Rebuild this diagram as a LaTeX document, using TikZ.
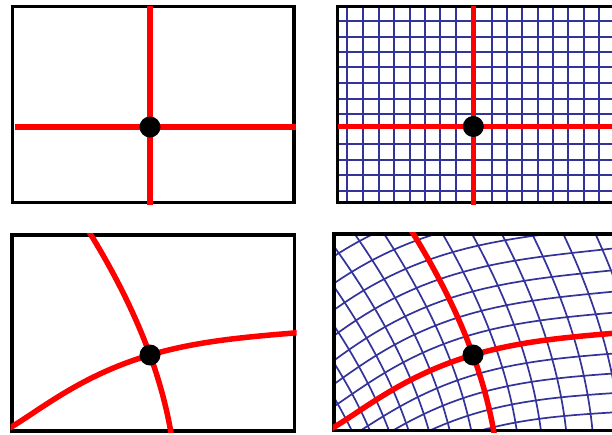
\documentclass[tikz,border=0pt]{standalone}
\definecolor{gridblue}{RGB}{51,51,153}
\definecolor{axisred}{RGB}{255,0,0}
\tikzset{
  panel/.style={draw=black, line width=3.5pt},
  axisline/.style={draw=axisred, line width=5.5pt},
  gridline/.style={draw=gridblue, line width=1.7pt},
  dotnode/.style={circle, fill=black, inner sep=0pt, minimum size=21pt},
}
\pgfmathdeclarefunction{Fx}{2}{\pgfmathparse{22.6*(#1)+0.64*(#1)*(#1)-6.72*(#2)-0.431*(#2)*(#2)+0.19*(#1)*(#2)}}
\pgfmathdeclarefunction{Fy}{2}{\pgfmathparse{6.67*(#1)-0.5808*(#1)*(#1)-0.003994*(#1)*(#1)*(#1)+0.003879*(#1)*(#1)*(#1)*(#1)+18.5*(#2)+0.107*(#2)*(#2)+0.345*(#1)*(#2)-0.01315*(#1)*(#1)*(#2)}}
\begin{document}
\begin{tikzpicture}[x=1pt,y=-1pt]
\useasboundingbox (0,0) rectangle (612,434);
\clip (0,0) rectangle (612,434);
\fill[white] (0,0) rectangle (612,434);

% ---------- top left ----------
\draw[panel] (12.3,6.7) rectangle (294,202.5);
\draw[axisline] (150,6) -- (150,204.5);
\draw[axisline] (15,127) -- (295.5,127);
\node[dotnode] (dotA) at (150,127) {};

% ---------- top right ----------
\begin{scope}
  \clip (337.5,6.7) rectangle (620,202.5);
  \foreach \gx in {347.3,363.3,379,394.3,409.7,424.7,440,456,491.7,507.3,522,537.7,553,568.3,584,599.3}
    \draw[gridline] (\gx,0) -- (\gx,210);
  \foreach \gy in {21,36.7,52.3,67.3,82.7,98.7,114,144.3,160,175.3,191}
    \draw[gridline] (330,\gy) -- (620,\gy);
\end{scope}
\draw[panel] (337.5,6.7) rectangle (630,202.5);
\draw[axisline] (473.3,6) -- (473.3,204.5);
\draw[axisline] (338,126.5) -- (615,126.5);
\node[dotnode] (dotB) at (473.3,126.5) {};

% ---------- bottom left ----------
\draw[panel] (12,235) rectangle (294.7,431);
\begin{scope}
  \clip (10.5,233.5) rectangle (296.5,432.7);
  \draw[axisline] plot[domain=-6:8, samples=60, variable=\t] ({150+Fx(0,\t)},{355-Fy(0,\t)});
  \draw[axisline] plot[domain=-9.5:7, samples=60, variable=\t] ({150+Fx(\t,0)},{355-Fy(\t,0)});
\end{scope}
\node[dotnode] (dotC) at (150,355) {};

% ---------- bottom right ----------
\begin{scope}
  \clip (334,234) rectangle (620,430.5);
  \foreach \u in {-10,...,8}
    \draw[gridline] plot[domain=-7:9, samples=40, variable=\t] ({473+Fx(\u,\t)},{355-Fy(\u,\t)});
  \foreach \v in {-7,...,9}
    \draw[gridline] plot[domain=-10:8, samples=40, variable=\t] ({473+Fx(\t,\v)},{355-Fy(\t,\v)});
\end{scope}
\draw[panel] (334,234) rectangle (630,430.5);
\begin{scope}
  \clip (332.5,232.5) rectangle (620,432.2);
  \draw[axisline] plot[domain=-6:8, samples=60, variable=\t] ({473+Fx(0,\t)},{355-Fy(0,\t)});
  \draw[axisline] plot[domain=-9.5:7, samples=60, variable=\t] ({473+Fx(\t,0)},{355-Fy(\t,0)});
\end{scope}
\node[dotnode] (dotD) at (473,355) {};
\end{tikzpicture}
\end{document}
